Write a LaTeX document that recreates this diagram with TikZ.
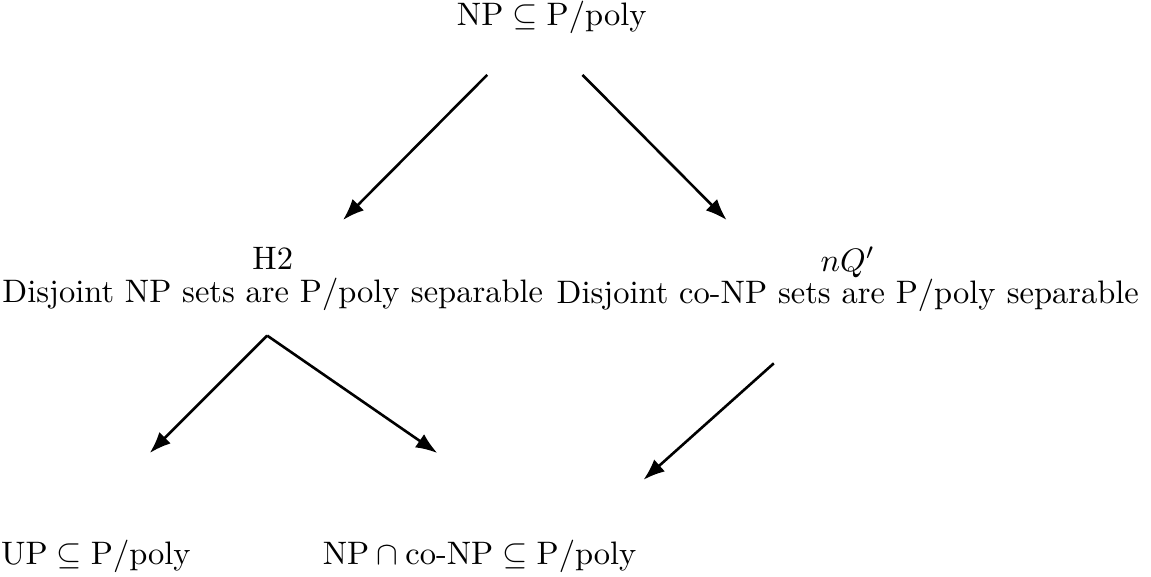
\documentclass[tikz,border=0pt]{standalone}
\usepackage{amsmath,amssymb}
\usepackage{tikz}
\usetikzlibrary{arrows.meta, positioning}

\begin{document}
\begin{tikzpicture}[>={Latex}, every node/.style={align=center}]
        \useasboundingbox (0,0) rectangle (12.45,-6.24);

        % Top level
        \node[anchor=base] (np) at (5.97,-0.28) {$\mathrm{NP} \subseteq \mathrm{P/poly}$};

        % Middle level
        \node (h2) at (2.95,-3.02) {H2\\[-2pt]Disjoint NP sets are $\mathrm{P/poly}$ separable};
        \node (nq) at (9.17,-3.02) {$nQ'$\\[-2pt]Disjoint co-NP sets are $\mathrm{P/poly}$ separable};

        % Bottom level
        \node[anchor=base] (up) at (1.04,-6.11) {$\mathrm{UP} \subseteq \mathrm{P/poly}$};
        \node[anchor=base] (npco) at (5.19,-6.11) {$\mathrm{NP} \cap \text{co-NP} \subseteq \mathrm{P/poly}$};

        % Arrow end points
        \coordinate (a1) at (5.27,-0.81);
        \coordinate (a2) at (3.71,-2.38);
        \coordinate (b1) at (6.30,-0.81);
        \coordinate (b2) at (7.86,-2.38);
        \coordinate (c1) at (2.89,-3.63);
        \coordinate (c2) at (1.62,-4.90);
        \coordinate (c3) at (4.73,-4.90);
        \coordinate (d1) at (8.37,-3.93);
        \coordinate (d2) at (6.96,-5.19);

        % Arrows
        \draw[->, thick] (a1) -- (a2);
        \draw[->, thick] (b1) -- (b2);
        \draw[->, thick] (c1) -- (c2);
        \draw[->, thick] (c1) -- (c3);
        \draw[->, thick] (d1) -- (d2);
    \end{tikzpicture}
\end{document}
